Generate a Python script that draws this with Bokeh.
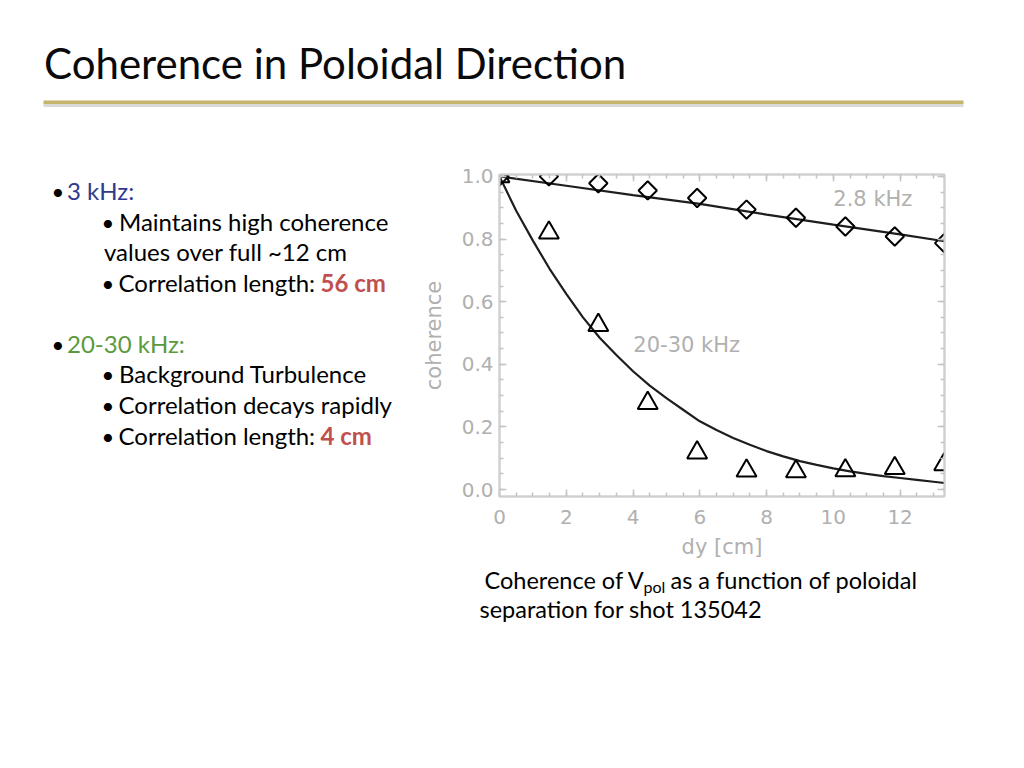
import numpy as np
from bokeh.plotting import figure
from bokeh.layouts import column, row
from bokeh.models import Range1d, LinearAxis, FixedTicker, CustomJSTickFormatter, NumeralTickFormatter
from bokeh.core.properties import value
from bokeh.embed import file_html
from bokeh.resources import INLINE

# ---------------- data ----------------
dy = [0.0, 1.48, 2.96, 4.44, 5.92, 7.40, 8.88, 10.36, 11.84, 13.32]
coh_28khz = [1.0, 1.0, 0.978, 0.955, 0.931, 0.894, 0.868, 0.840, 0.808, 0.787]
coh_2030khz = [1.0, 0.82, 0.525, 0.276, 0.118, 0.060, 0.058, 0.061, 0.068, 0.080]

fit_28_x = [0, 2, 4, 6, 8, 10, 12, 13.33]
fit_28_y = [1.0, 0.970, 0.940, 0.912, 0.878, 0.846, 0.815, 0.793]

fit_2030_x = [0, 0.5, 1, 1.5, 2, 2.5, 3, 3.5, 4, 4.5, 5, 5.5, 6, 6.5, 7, 7.5,
              8, 8.5, 9, 9.5, 10, 10.5, 11, 11.5, 12, 12.5, 13, 13.33]
fit_2030_y = [1.0, 0.89, 0.795, 0.705, 0.625, 0.55, 0.485, 0.43, 0.378, 0.332,
              0.292, 0.255, 0.218, 0.19, 0.165, 0.143, 0.123, 0.106, 0.091, 0.079,
              0.068, 0.058, 0.05, 0.043, 0.037, 0.031, 0.025, 0.021]

x_ticks = [0, 2, 4, 6, 8, 10, 12]
y_ticks = [0.0, 0.2, 0.4, 0.6, 0.8, 1.0]
x_minor = [i * 0.5 for i in range(0, 27)]
y_minor = [i * 0.05 for i in range(0, 21)]

title_text = "Coherence in Poloidal Direction"
SLIDE_FONT = "Lato"
CHART_FONT = "DejaVu Sans"
GRAY = "#b0b0b0"
BASE_SHIFT = 0.40  # em offset applied by the renderer to alphabetic baselines

# page geometry of the chart frame (the left text panel shares it through row alignment)
FRAME_TOP, FRAME_BOTTOM = 174, 496


def canvas(x0, y0, w, h, y_top=None, y_bottom=None):
    # a blank figure whose data coordinates are page pixels
    yt_ = y0 if y_top is None else y_top
    yb_ = y0 + h if y_bottom is None else y_bottom
    p = figure(width=w, height=h, x_range=Range1d(x0, x0 + w), y_range=Range1d(yb_, yt_),
               output_backend="svg", toolbar_location=None,
               x_axis_location=None, y_axis_location=None, min_border=0)
    p.xgrid.visible = False
    p.ygrid.visible = False
    p.outline_line_color = None
    return p


def txt(p, x, baseline, s, size=24, color="#000000", style="normal", align="left"):
    p.text(x=[x], y=[baseline - BASE_SHIFT * size], text=[s], text_font=value(SLIDE_FONT),
           text_font_size=f"{size}px", text_color=color, text_font_style=style,
           text_align=align, text_baseline="alphabetic")


# ---------------- title strip ----------------
top = canvas(0, 0, 1016, 158)
txt(top, 43.5, 79.5, title_text, size=42, color="#0a0a0a")
top.segment(x0=[43], y0=[105], x1=[963], y1=[105], line_color="#dadada", line_width=3)
top.segment(x0=[43], y0=[101.7], x1=[963], y1=[101.7], line_color="#C5B46B", line_width=3.4)

# ---------------- bullet text ----------------
left = canvas(0, 158, 409, 408, y_top=FRAME_TOP, y_bottom=FRAME_BOTTOM)
BLUE = "#2F3A8E"
GREEN = "#5A9A3C"
RED = "#C0504D"
B = 22
txt(left, 57.5, 200, "•", size=B, align="center")
txt(left, 66.5, 200, "3 kHz:", color=BLUE)
txt(left, 107.5, 231, "•", size=B, align="center")
txt(left, 118.5, 231, "Maintains high coherence")
txt(left, 103.5, 261, "values over full ~12 cm")
txt(left, 107.5, 292, "•", size=B, align="center")
txt(left, 118, 292, "Correlation length: ")
txt(left, 320, 292, "56 cm", color=RED, style="bold")

txt(left, 57.5, 353, "•", size=B, align="center")
txt(left, 66.5, 353, "20-30 kHz:", color=GREEN)
txt(left, 107.5, 383, "•", size=B, align="center")
txt(left, 118.5, 383, "Background Turbulence")
txt(left, 107.5, 414, "•", size=B, align="center")
txt(left, 118, 414, "Correlation decays rapidly")
txt(left, 107.5, 445, "•", size=B, align="center")
txt(left, 118, 445, "Correlation length: ")
txt(left, 320, 445, "4 cm", color=RED, style="bold")

# ---------------- chart ----------------
p = figure(width=551, height=408, x_range=Range1d(0, 13.33), y_range=Range1d(-0.022, 1.006),
           output_backend="svg", toolbar_location=None,
           min_border_left=90, min_border_right=16, min_border_top=16, min_border_bottom=70)
p.xgrid.visible = False
p.ygrid.visible = False
p.outline_line_color = "#d6d6d6"
p.outline_line_width = 2

xt = FixedTicker(ticks=x_ticks, minor_ticks=x_minor)
yt = FixedTicker(ticks=y_ticks, minor_ticks=y_minor)
x_bottom = p.below[0]
y_left = p.left[0]
x_bottom.ticker = xt
y_left.ticker = yt
y_left.formatter = NumeralTickFormatter(format="0.0")
x_bottom.axis_label = "dy [cm]"
y_left.axis_label = "coherence"

blank = CustomJSTickFormatter(code="return '';")
y_right = LinearAxis(ticker=yt, formatter=blank, major_label_standoff=0)
x_top = LinearAxis(ticker=xt, formatter=blank, major_label_standoff=0)
p.add_layout(y_right, "right")
p.add_layout(x_top, "above")

for ax in (x_bottom, y_left, y_right, x_top):
    ax.axis_line_color = "#d0d0d0"
    ax.axis_line_width = 2
    ax.major_tick_line_color = "#c4c4c4"
    ax.minor_tick_line_color = "#c4c4c4"
    ax.major_tick_line_width = 1.5
    ax.minor_tick_line_width = 1.5
    ax.major_tick_in = 7
    ax.major_tick_out = 0
    ax.minor_tick_in = 4
    ax.minor_tick_out = 0
    ax.major_label_text_font = CHART_FONT
    ax.major_label_text_font_size = "20px"
    ax.major_label_text_color = GRAY
    ax.axis_label_text_font = CHART_FONT
    ax.axis_label_text_font_size = "21px"
    ax.axis_label_text_font_style = "normal"
    ax.axis_label_text_color = GRAY

y_left.major_label_standoff = 6
y_left.axis_label_standoff = 13
x_bottom.major_label_standoff = 13
x_bottom.axis_label_standoff = 8

p.line(fit_28_x, fit_28_y, line_color="#1e1e1e", line_width=2.2)
p.line(fit_2030_x, fit_2030_y, line_color="#1e1e1e", line_width=2.2)
p.scatter(dy, coh_28khz, marker="square", angle=np.pi / 4, size=13,
          fill_color=None, line_color="#000000", line_width=2)
p.scatter(dy, coh_2030khz, marker="triangle", size=20,
          fill_color=None, line_color="#000000", line_width=2)

p.text(x=[10.0], y=[0.927], text=["2.8 kHz"], text_font=value(CHART_FONT),
       text_font_size="21px", text_color=GRAY, text_baseline="middle")
p.text(x=[4.01], y=[0.463], text=["20-30 kHz"], text_font=value(CHART_FONT),
       text_font_size="21px", text_color=GRAY, text_baseline="middle")

# ---------------- caption ----------------
C = 23.5
cap = canvas(0, 566, 1016, 120)
txt(cap, 484, 589.3, "Coherence of V", size=C)
txt(cap, 643, 592.5, "pol", size=16)
txt(cap, 670, 589.3, "as a function of poloidal", size=C)
txt(cap, 479, 618.3, "separation for shot 135042", size=C)

layout = column(top, row(left, p), cap)
open("out.html", "w").write(file_html(layout, INLINE))
